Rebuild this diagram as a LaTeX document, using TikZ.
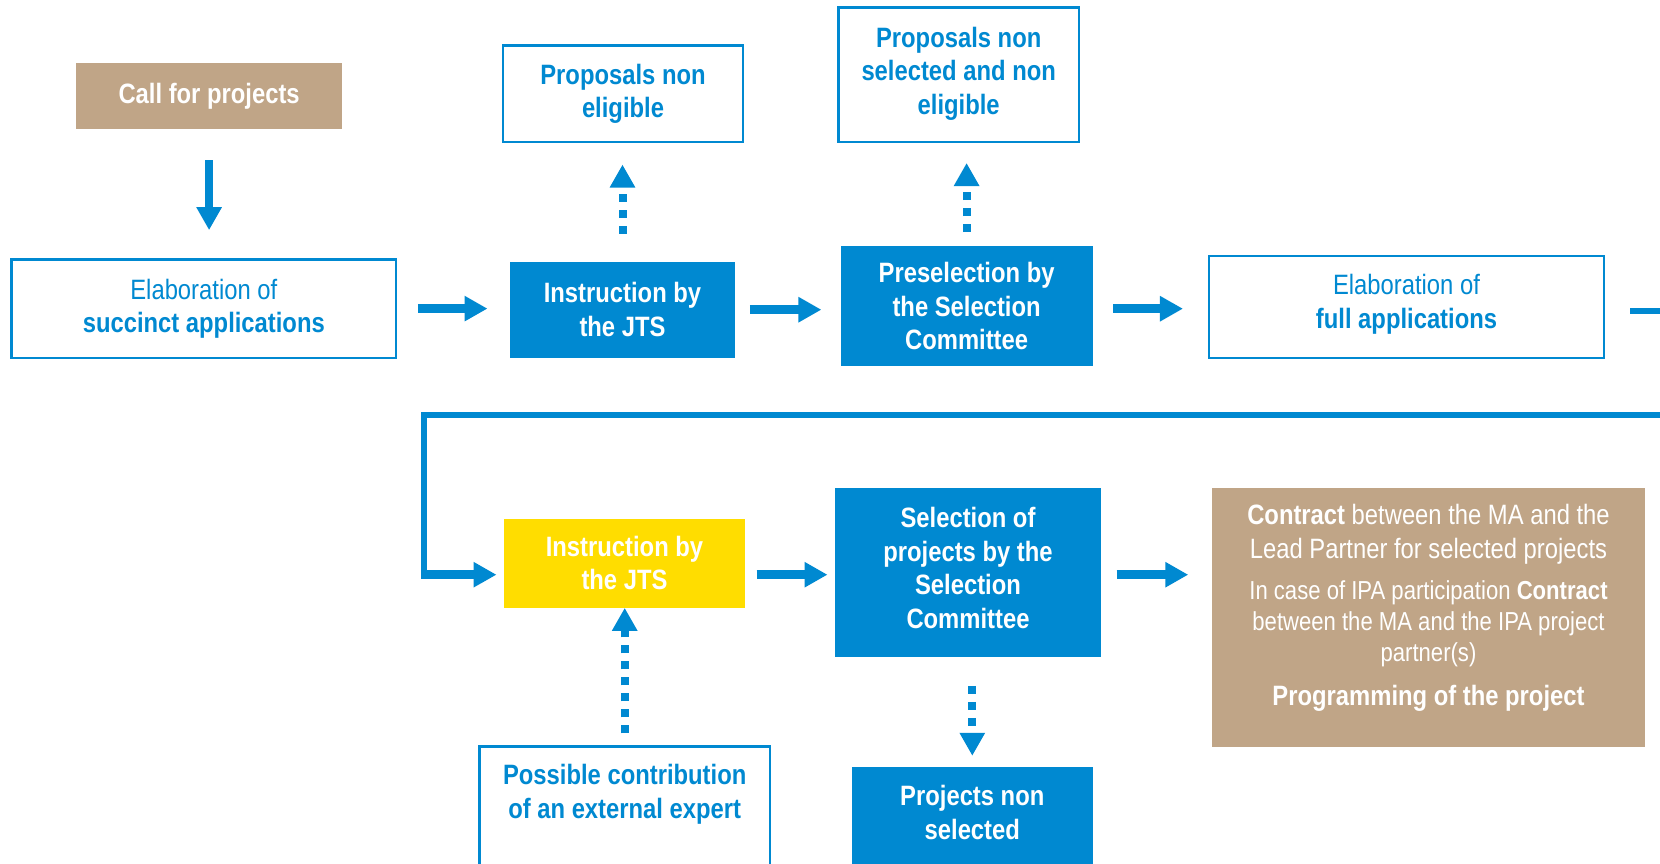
\documentclass[tikz,border=0pt]{standalone}
\usepackage{fontspec}
\setmainfont{Liberation Sans}[FakeStretch=0.85]
\usetikzlibrary{arrows.meta}
\definecolor{myblue}{RGB}{0,137,209}
\definecolor{mybrown}{RGB}{192,165,135}
\definecolor{myyellow}{RGB}{255,221,0}
\newcommand\fs{\fontsize{28pt}{33.5pt}\selectfont}
\newcommand\topbox[4]{\parbox[c][#2][t]{#1}{\centering\vspace*{#3}#4\par}}
\begin{document}
\begin{tikzpicture}[x=1pt,y=-1pt,
  base/.style={inner sep=0pt, align=center, font=\fs},
  bluebox/.style={base, fill=myblue, text=white, font=\fs\bfseries},
  whitebox/.style={base, draw=myblue, line width=2.5pt, fill=white, text=myblue},
  whitebold/.style={whitebox, font=\fs\bfseries},
  brownbox/.style={base, fill=mybrown, text=white},
  yellowbox/.style={base, fill=myyellow, text=white, font=\fs\bfseries},
  sarrow/.style={draw=myblue, line width=8.5pt, -{Triangle[length=23pt,width=24pt]}},
  darrow/.style={draw=myblue, line width=8pt, dash pattern=on 8pt off 8pt, -{Triangle[length=23pt,width=24pt]}},
  thinline/.style={draw=myblue, line width=5.3pt}
]
\useasboundingbox (0,0) rectangle (1660,864);
\fill[white] (0,0) rectangle (1660,864);
\clip (0,0) rectangle (1660,864);

% top row
\node[brownbox, font=\fs\bfseries, minimum width=265.8pt, minimum height=66.7pt] (call) at (209.1,95.9) {Call for projects};
\node[whitebox, minimum width=384.4pt, minimum height=98.4pt] (elab1) at (203.8,308.6) {Elaboration of\\\textbf{succinct applications}};
\node[bluebox, minimum width=224.4pt, minimum height=96.3pt] (jts) at (622.5,309.7) {Instruction by\\the JTS};
\node[whitebold, minimum width=240.3pt, minimum height=96.4pt] (pne) at (623,93.7) {Proposals non\\eligible};
\node[bluebox, minimum width=252pt, minimum height=120.7pt] (pre) at (966.6,306) {Preselection by\\the Selection\\Committee};
\node[whitebold] (pns) at (958.7,74.7) {\topbox{240.3pt}{134.5pt}{19.4pt}{Proposals non\\selected and non\\eligible}};
\node[whitebox] (elab2) at (1406.5,307) {\topbox{395pt}{102pt}{18.4pt}{Elaboration of\\\textbf{full applications}}};

% bottom row
\node[yellowbox, minimum width=241pt, minimum height=88.9pt] (yel) at (624.5,563.2) {Instruction by\\the JTS};
\node[bluebox] (sel) at (968,572.5) {\topbox{266pt}{169pt}{19.3pt}{Selection of\\projects by the\\Selection\\Committee}};
\node[brownbox] (contract) at (1428.5,617.2) {\topbox{432.5pt}{259pt}{16.3pt}{\fontsize{28pt}{31pt}\selectfont
  \textbf{Contract} between the MA and the\\[3pt]
  Lead Partner for selected projects\\[10.5pt]
  \fontsize{26pt}{31pt}\selectfont In case of IPA participation \textbf{Contract}\\
  between the MA and the IPA project\\
  partner(s)\\[12.5pt]
  \fontsize{28pt}{31pt}\selectfont\textbf{Programming of the project}}};
\node[whitebold] (expert) at (624.7,813.35) {\topbox{290.6pt}{133.3pt}{17.9pt}{Possible contribution\\of an external expert}};
\node[bluebox] (pnsel) at (972.3,823.5) {\topbox{241.4pt}{113pt}{18.6pt}{Projects non\\selected}};

\coordinate (offr) at (1660,311);
\coordinate (loopin) at (1660,415);
\coordinate (c1) at (424,415);
\coordinate (row2) at ([yshift=-2.2pt]sel.center);

% solid connectors
\draw[sarrow, shorten <=31pt, shorten >=28pt] (call.south) -- (call.south |- elab1.north);
\draw[sarrow, shorten <=20.7pt, shorten >=22.6pt] (elab1.east) -- (elab1.east -| jts.west);
\draw[sarrow, shorten <=14.9pt, shorten >=19pt] (jts.east) -- (jts.east -| pre.west);
\draw[sarrow, shorten <=20.6pt, shorten >=24.8pt] ([yshift=-1.7pt]pre.east |- elab2.west) -- ([yshift=-1.7pt]elab2.west);
\draw[thinline, shorten <=25pt] (elab2.east |- offr) -- (offr);
\draw[thinline] (loopin) -- (c1) -- (c1 |- row2);
\draw[sarrow, shorten >=7.3pt] ([xshift=-2.65pt]c1 |- row2) -- (yel.west |- row2);
\draw[sarrow, shorten <=11.3pt, shorten >=7.3pt] (yel.east |- row2) -- (sel.west |- row2);
\draw[sarrow, shorten <=15.3pt, shorten >=23.8pt] (sel.east |- row2) -- (contract.west |- row2);

% dotted connectors
\draw[darrow, shorten <=27.5pt, shorten >=21.4pt] (jts.north) -- (jts.north |- pne.south);
\draw[darrow, shorten <=13.3pt, shorten >=19.8pt] (pre.north) -- (pre.north |- pns.south);
\draw[darrow, shorten <=12pt] (expert.north) -- (expert.north |- yel.south);
\draw[darrow, shorten <=28.7pt, shorten >=11pt] (pnsel.north |- sel.south) -- (pnsel.north);
\end{tikzpicture}
\end{document}
